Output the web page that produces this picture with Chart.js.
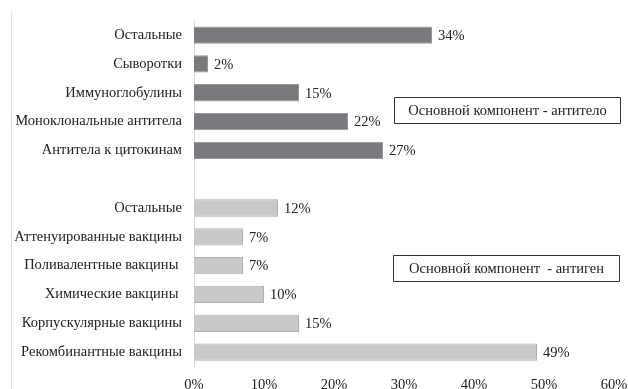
<!DOCTYPE html>
<html><head><meta charset="utf-8">
<script src="https://cdn.jsdelivr.net/npm/chart.js@4/dist/chart.umd.min.js"></script>
<style>html,body{margin:0;padding:0;background:#fff}#wrap{width:628px;height:389px;position:relative}
#fl{position:absolute;left:0;top:0;font-family:'Liberation Serif';font-size:14px;color:transparent;pointer-events:none}</style>
</head><body><div id="wrap"><span id="fl">Остальные 34%</span><canvas id="c" width="628" height="389"></canvas></div>
<script>
const categories = ['Остальные','Сыворотки','Иммуноглобулины','Моноклональные антитела','Антитела к цитокинам','',
  'Остальные','Аттенуированные вакцины','Поливалентные вакцины ','Химические вакцины ','Корпускулярные вакцины','Рекомбинантные вакцины'];
const antibodyValues = [34,2,15,22,27];
const antigenValues = [12,7,7,10,15,49];
const values = antibodyValues.concat([null], antigenValues);
const xTicks = [0,10,20,30,40,50,60];
const groupLabels = ['Основной компонент - антитело','Основной компонент  - антиген'];

const darkFill = '#797a7d', darkBorder = '#96979a';
const lightFill = '#c9c9c9', lightBorder = '#afafaf';
const bg = values.map((v,i)=> i<5 ? darkFill : lightFill);
const bd = values.map((v,i)=> i<5 ? darkBorder : lightBorder);
const FONT = "'Liberation Serif', serif";
const FS = 14.5;

const extras = {
  id:'extras',
  afterDatasetsDraw(chart){
    const ctx = chart.ctx;
    const meta = chart.getDatasetMeta(0);
    ctx.save();
    ctx.font = FS + 'px ' + FONT;
    ctx.fillStyle = '#222';
    ctx.textBaseline = 'middle';
    ctx.textAlign = 'left';
    meta.data.forEach((bar,i)=>{
      const v = values[i];
      if (v==null) return;
      ctx.fillText(v + '%', bar.x + 6, bar.y + 1);
    });
    ctx.strokeStyle = '#e2e2e2';
    ctx.lineWidth = 1;
    ctx.beginPath(); ctx.moveTo(11.5,12); ctx.lineTo(11.5,389); ctx.stroke();
    const xs = chart.scales.x, ys = chart.scales.y;
    const boxes = [
      {text:groupLabels[0], x0:28.6, x1:60.8, cy:(ys.getPixelForValue(2)+ys.getPixelForValue(3))/2 + 3},
      {text:groupLabels[1], x0:28.4, x1:60.7, cy:(ys.getPixelForValue(7)+ys.getPixelForValue(8))/2 + 17},
    ];
    ctx.strokeStyle = '#333';
    ctx.textAlign = 'center';
    boxes.forEach(b=>{
      const l = Math.round(xs.getPixelForValue(b.x0))+0.5, r = Math.round(xs.getPixelForValue(b.x1))+0.5;
      const t = Math.round(b.cy - 13)+0.5, h = 26;
      ctx.beginPath(); ctx.rect(l,t,r-l,h); ctx.stroke();
      ctx.fillText(b.text, (l+r)/2, t + h/2 + 1);
    });
    ctx.restore();
  }
};

function draw(){
  Chart.defaults.font.family = FONT;
  new Chart(document.getElementById('c'), {
    type:'bar',
    data:{labels:categories, datasets:[{data:values, backgroundColor:bg, borderColor:bd, borderWidth:1,
      barPercentage:0.6, categoryPercentage:1}]},
    options:{
      indexAxis:'y', responsive:false, animation:false,
      layout:{padding:{top:18, right:0, left:0, bottom:0}},
      plugins:{legend:{display:false}, tooltip:{enabled:false}},
      scales:{
        x:{min:0, max:60, afterBuildTicks(s){ s.ticks = xTicks.map(v=>({value:v})); },
          grid:{display:false, drawTicks:false},
          border:{display:false},
          ticks:{padding:10, color:'#222', font:{family:FONT, size:FS}, callback:v=>v+'%'},
          afterFit(s){ s.height = 22.5; s.paddingRight = 14; }
        },
        y:{grid:{display:false, drawTicks:false},
          border:{display:true, color:'#d9d9d9'},
          ticks:{padding:12, color:'#222', font:{family:FONT, size:FS}, autoSkip:false},
          afterFit(s){ s.width = 194; }
        }
      }
    },
    plugins:[extras]
  });
}
(document.fonts && document.fonts.load ? document.fonts.load(FS+"px 'Liberation Serif'") : Promise.resolve()).then(draw, draw);
</script></body></html>
